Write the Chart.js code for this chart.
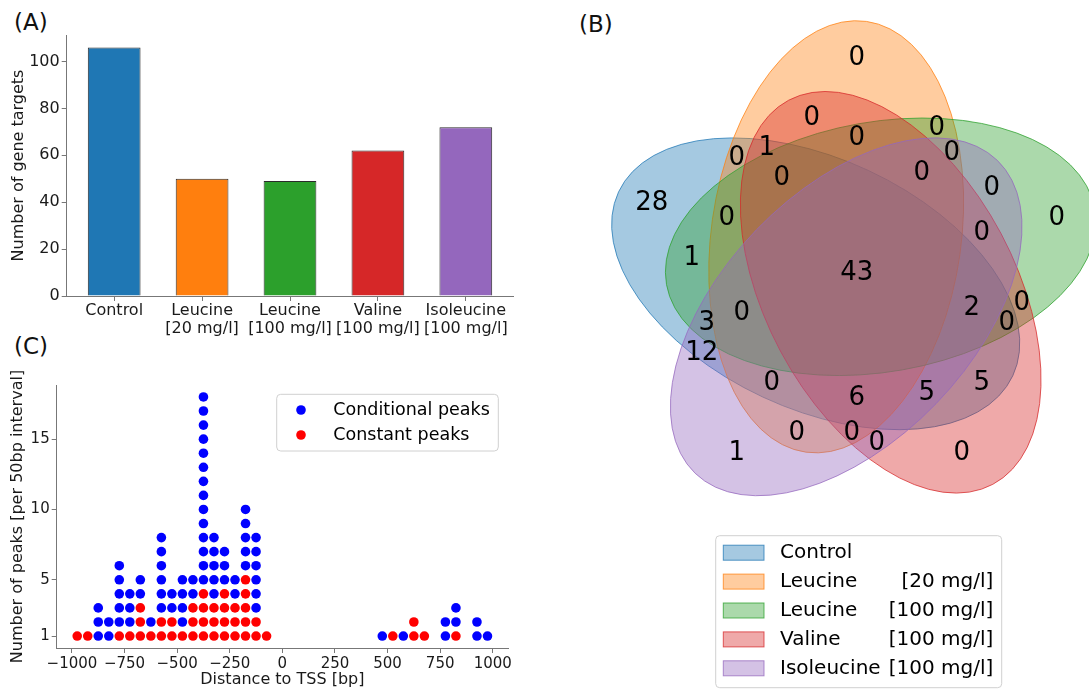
<!DOCTYPE html>
<html>
<head>
<meta charset="utf-8">
<script src="https://cdn.jsdelivr.net/npm/chart.js@4.4.1/dist/chart.umd.min.js"></script>
<style>
  html, body { margin: 0; padding: 0; background: #fff; overflow: hidden; width: 1089px; height: 689px; }
  .panel { position: absolute; }
  .tag { position: absolute; font-family: 'DejaVu Sans'; font-size: 23px; line-height: 23px; color: #111; }
</style>
</head>
<body>
<div class="tag" style="left:14px;top:10.5px">(A)</div>
<div class="tag" style="left:579px;top:12.5px">(B)</div>
<div class="tag" style="left:14px;top:334.5px">(C)</div>
<div class="panel" style="left:0;top:0;width:530px;height:340px"><canvas id="barChart"></canvas></div>
<div class="panel" style="left:580px;top:0;width:530px;height:689px"><canvas id="vennChart"></canvas></div>
<div class="panel" style="left:0;top:340px;width:530px;height:349px"><canvas id="dotChart"></canvas></div>
<script>
// ---- data ----
const setNames = ['Control', 'Leucine', 'Leucine', 'Valine', 'Isoleucine'];
const setDoses = ['', '[20 mg/l]', '[100 mg/l]', '[100 mg/l]', '[100 mg/l]'];
const setColors = ['#1f77b4', '#ff7f0e', '#2ca02c', '#d62728', '#9467bd'];
const geneTargets = [106, 50, 49, 62, 72];
const geneTicks = [0, 20, 40, 60, 80, 100];

// region code bits: Control, Leu 20, Leu 100, Valine, Isoleucine
const vennRegions = ['00001', '00010', '00011', '00100', '00101', '00110', '00111', '01000',
                     '01001', '01010', '01011', '01100', '01101', '01110', '01111', '10000',
                     '10001', '10010', '10011', '10100', '10101', '10110', '10111', '11000',
                     '11001', '11010', '11011', '11100', '11101', '11110', '11111'];
const vennCounts = [1, 0, 0, 0, 0, 0, 0, 0,
                    0, 0, 0, 0, 0, 0, 0, 28,
                    12, 5, 5, 1, 3, 0, 2, 0,
                    0, 1, 6, 0, 0, 0, 43];

// 50bp bins, stack of peaks from bottom: B = conditional, R = constant
const binCenters = [-975, -925, -875, -825, -775, -725, -675, -625, -575, -525, -475, -425, -375,
                    -325, -275, -225, -175, -125, -75, 475, 525, 575, 625, 675, 775, 825, 925, 975];
const binStacks = ['R', 'R', 'BBB', 'BB', 'RBBBBB', 'RBBB', 'RRRBB', 'RB', 'RRBBBBBB', 'RRBB', 'RBBBB',
                   'RRRBB', 'RRRRBBBBBBBBBBBBBB', 'RRRBBBBB', 'RRRRBBB', 'RRRBB', 'RRRRRBBBBB', 'RRBBBBBB',
                   'R', 'B', 'R', 'B', 'RR', 'R', 'BB', 'RBB', 'BB', 'B'];
const distTicks = [-1000, -750, -500, -250, 0, 250, 500, 750, 1000];
const peakTicks = [1, 5, 10, 15];
const peakLabels = ['Conditional peaks', 'Constant peaks'];
const peakColors = ['#0000ff', '#ff0000'];

// ---- venn5 layout (unit square) ----
const VENN5_ELLIPSES = [
  [0.428, 0.449, 0.87, 0.50, 155.0],
  [0.469, 0.543, 0.87, 0.50, 82.0],
  [0.558, 0.523, 0.87, 0.50, 10.0],
  [0.578, 0.432, 0.87, 0.50, 118.0],
  [0.489, 0.383, 0.87, 0.50, 46.0]
];
const VENN5_TEXT = {
  '00001': [0.27, 0.11], '00010': [0.72, 0.11], '00011': [0.55, 0.13], '00100': [0.91, 0.58],
  '00101': [0.78, 0.64], '00110': [0.84, 0.41], '00111': [0.76, 0.55], '01000': [0.51, 0.90],
  '01001': [0.39, 0.15], '01010': [0.42, 0.78], '01011': [0.50, 0.15], '01100': [0.67, 0.76],
  '01101': [0.70, 0.71], '01110': [0.51, 0.74], '01111': [0.64, 0.67], '10000': [0.10, 0.61],
  '10001': [0.20, 0.31], '10010': [0.76, 0.25], '10011': [0.65, 0.23], '10100': [0.18, 0.50],
  '10101': [0.21, 0.37], '10110': [0.81, 0.37], '10111': [0.74, 0.40], '11000': [0.27, 0.70],
  '11001': [0.34, 0.25], '11010': [0.33, 0.72], '11011': [0.51, 0.22], '11100': [0.25, 0.58],
  '11101': [0.28, 0.39], '11110': [0.36, 0.66], '11111': [0.51, 0.47]
};

Chart.defaults.font.family = "'DejaVu Sans'";
Chart.defaults.color = '#1a1a1a';
const spine = '#777';

function rgba(hex, a) {
  const n = parseInt(hex.slice(1), 16);
  return 'rgba(' + (n >> 16) + ',' + ((n >> 8) & 255) + ',' + (n & 255) + ',' + a + ')';
}
function fmt(v) { return v < 0 ? '\u2212' + Math.abs(v) : '' + v; }

// ---- (A) bar chart ----
new Chart(document.getElementById('barChart'), {
  type: 'bar',
  data: {
    datasets: [{
      data: geneTargets.map((v, i) => ({x: i, y: v})),
      backgroundColor: setColors,
      borderColor: '#2b2b2b',
      borderWidth: 1,
      barPercentage: 0.6,
      categoryPercentage: 1
    }]
  },
  options: {
    responsive: true, maintainAspectRatio: false, animation: false,
    layout: {padding: {top: 35, right: 16.7, left: 0, bottom: 0}},
    plugins: {legend: {display: false}, tooltip: {enabled: false}},
    scales: {
      x: {
        type: 'linear', min: -0.54, max: 4.54, offset: false,
        afterBuildTicks: s => { s.ticks = setNames.map((_, i) => ({value: i})); },
        afterFit: s => { s.height = 44; },
        ticks: {
          autoSkip: false, maxRotation: 0, padding: 0,
          font: {size: 16, lineHeight: 1.17},
          callback: v => setDoses[v] ? [setNames[v], setDoses[v]] : setNames[v]
        },
        grid: {offset: false, drawOnChartArea: false, tickLength: 5, color: spine},
        border: {color: spine}
      },
      y: {
        min: 0, max: 111.3,
        afterBuildTicks: s => { s.ticks = geneTicks.map(v => ({value: v})); },
        afterFit: s => { s.width = 66.7; },
        ticks: {font: {size: 16}, padding: 2},
        grid: {drawOnChartArea: false, tickLength: 5, color: spine},
        border: {color: spine},
        title: {display: true, text: 'Number of gene targets', font: {size: 16}, padding: {top: 9.7, bottom: 0}}
      }
    }
  }
});

// ---- (B) venn diagram ----
const vennPlugin = {
  id: 'venn5',
  beforeDatasetsDraw(chart) {
    const {ctx, scales: {x, y}} = chart;
    ctx.save();
    VENN5_ELLIPSES.forEach((e, i) => {
      const cx = x.getPixelForValue(e[0]), cy = y.getPixelForValue(e[1]);
      const rx = Math.abs(x.getPixelForValue(e[2] / 2) - x.getPixelForValue(0));
      const ry = Math.abs(y.getPixelForValue(e[3] / 2) - y.getPixelForValue(0));
      ctx.beginPath();
      ctx.ellipse(cx, cy, rx, ry, -e[4] * Math.PI / 180, 0, 2 * Math.PI);
      ctx.fillStyle = rgba(setColors[i], 0.4);
      ctx.fill();
      ctx.strokeStyle = rgba(setColors[i], 0.75);
      ctx.lineWidth = 1;
      ctx.stroke();
    });
    ctx.restore();
  },
  afterDatasetsDraw(chart) {
    const {ctx} = chart;
    const meta = chart.getDatasetMeta(0);
    ctx.save();
    ctx.font = "26px 'DejaVu Sans'";
    ctx.fillStyle = '#000';
    ctx.textAlign = 'center';
    ctx.textBaseline = 'middle';
    meta.data.forEach((pt, i) => ctx.fillText(String(vennCounts[i]), pt.x, pt.y));
    ctx.restore();
  },
  afterDraw(chart) {
    const {ctx} = chart;
    ctx.save();
    ctx.beginPath();
    ctx.roundRect(135.7, 535.7, 286, 152, 4);
    ctx.fillStyle = 'rgba(255,255,255,0.8)';
    ctx.fill();
    ctx.strokeStyle = '#d0d0d0';
    ctx.lineWidth = 1;
    ctx.stroke();
    ctx.font = "20px 'DejaVu Sans'";
    ctx.textBaseline = 'middle';
    ctx.fillStyle = '#000';
    setNames.forEach((name, i) => {
      const ry = 552.7 + i * 28.9;
      ctx.fillStyle = rgba(setColors[i], 0.4);
      ctx.fillRect(143.3, ry - 7.5, 40.7, 15);
      ctx.strokeStyle = rgba(setColors[i], 0.75);
      ctx.strokeRect(143.3, ry - 7.5, 40.7, 15);
      ctx.fillStyle = '#000';
      ctx.textAlign = 'left';
      ctx.fillText(name, 200, ry);
      ctx.textAlign = 'right';
      ctx.fillText(setDoses[i], 413.3, ry);
    });
    ctx.restore();
  }
};

new Chart(document.getElementById('vennChart'), {
  type: 'scatter',
  data: {
    datasets: [{
      data: vennRegions.map(r => ({x: VENN5_TEXT[r][0], y: VENN5_TEXT[r][1]})),
      pointRadius: 0
    }]
  },
  options: {
    responsive: true, maintainAspectRatio: false, animation: false,
    layout: {padding: {left: 21.7, right: 8.3, top: 8.3, bottom: 180.7}},
    plugins: {legend: {display: false}, tooltip: {enabled: false}},
    scales: {
      x: {display: false, min: 0, max: 1},
      y: {display: false, min: 0, max: 1}
    }
  },
  plugins: [vennPlugin]
});

// ---- (C) dot plot ----
const condPts = [], constPts = [];
binCenters.forEach((c, i) => {
  binStacks[i].split('').forEach((k, j) => {
    (k === 'B' ? condPts : constPts).push({x: c, y: j + 1});
  });
});

const dotLegend = {
  id: 'dotLegend',
  afterDraw(chart) {
    const {ctx} = chart;
    ctx.save();
    ctx.beginPath();
    ctx.roundRect(276.7, 54.3, 221.6, 56.7, 4);
    ctx.fillStyle = 'rgba(255,255,255,0.8)';
    ctx.fill();
    ctx.strokeStyle = '#d0d0d0';
    ctx.lineWidth = 1;
    ctx.stroke();
    ctx.font = "17.5px 'DejaVu Sans'";
    ctx.textBaseline = 'middle';
    ctx.textAlign = 'left';
    chart.data.datasets.forEach((ds, i) => {
      const ry = 70 + i * 25;
      ctx.beginPath();
      ctx.arc(301, ry, 4.8, 0, 2 * Math.PI);
      ctx.fillStyle = ds.backgroundColor;
      ctx.fill();
      ctx.fillStyle = '#000';
      ctx.fillText(ds.label, 333.3, ry);
    });
    ctx.restore();
  }
};

new Chart(document.getElementById('dotChart'), {
  type: 'scatter',
  data: {
    datasets: [
      {label: peakLabels[0], data: condPts, backgroundColor: peakColors[0], borderWidth: 0, pointRadius: 4.8},
      {label: peakLabels[1], data: constPts, backgroundColor: peakColors[1], borderWidth: 0, pointRadius: 4.8}
    ]
  },
  options: {
    responsive: true, maintainAspectRatio: false, animation: false,
    layout: {padding: {top: 45, right: 22, left: 0, bottom: 0}},
    plugins: {legend: {display: false}, tooltip: {enabled: false}},
    scales: {
      x: {
        min: -1072.5, max: 1072.5,
        afterBuildTicks: s => { s.ticks = distTicks.map(v => ({value: v})); },
        afterFit: s => { s.height = 41; },
        ticks: {font: {size: 15}, padding: 2, maxRotation: 0, autoSkip: false, callback: v => fmt(v)},
        grid: {drawOnChartArea: false, tickLength: 5, color: spine},
        border: {color: spine},
        title: {display: true, text: 'Distance to TSS [bp]', font: {size: 16}, padding: {top: 0, bottom: 0}}
      },
      y: {
        min: 0.15, max: 18.85,
        afterBuildTicks: s => { s.ticks = peakTicks.map(v => ({value: v})); },
        afterFit: s => { s.width = 56.7; },
        ticks: {font: {size: 15}, padding: 2},
        grid: {drawOnChartArea: false, tickLength: 5, color: spine},
        border: {color: spine},
        title: {display: true, text: 'Number of peaks [per 50bp interval]', font: {size: 16}, padding: {top: 8.7, bottom: 0}}
      }
    }
  },
  plugins: [dotLegend]
});
</script>
</body>
</html>
